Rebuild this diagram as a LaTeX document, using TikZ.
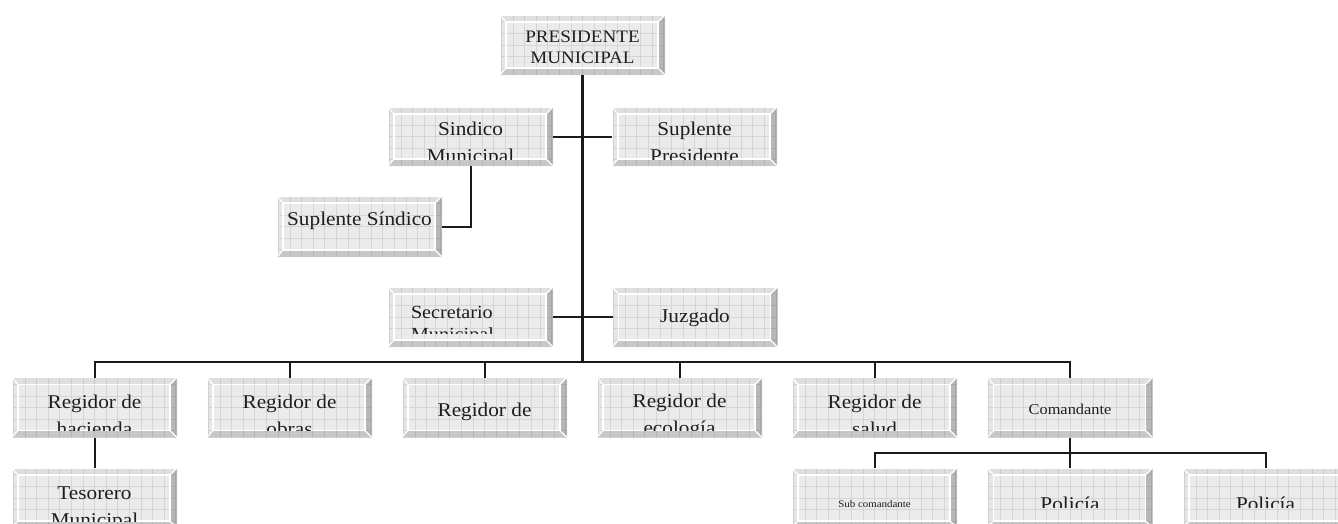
\documentclass[tikz,border=0pt]{standalone}
\usepackage{fontspec}
\setmainfont{Liberation Serif}[FakeStretch=1.09]
\definecolor{facecol}{HTML}{EBEBEB}
\definecolor{gridcol}{HTML}{D5D5D5}
\definecolor{linecol}{HTML}{1A1A1A}
\definecolor{textcol}{HTML}{1E1E1E}
\tikzset{
 bevelbox/.style={rectangle, minimum width=165pt, minimum height=#1, inner sep=0pt, outer sep=0pt, fill=facecol,
  path picture={
   \coordinate (pSW) at (path picture bounding box.south west);
   \coordinate (pNE) at (path picture bounding box.north east);
   \coordinate (pNW) at (path picture bounding box.north west);
   \coordinate (pSE) at (path picture bounding box.south east);
   \coordinate (qSW) at ([shift={(6pt,7pt)}]pSW);
   \coordinate (qNE) at ([shift={(-7pt,-7pt)}]pNE);
   \coordinate (qNW) at ([shift={(6pt,-7pt)}]pNW);
   \coordinate (qSE) at ([shift={(-7pt,7pt)}]pSE);
   \draw[gridcol, line width=0.7pt, step=11.6pt] (pSW) grid (pNE);
   \fill[black, opacity=0.05] (pNW) -- (pNE) -- (qNE) -- (qNW) -- cycle;
   \fill[black, opacity=0.22] (pNE) -- (pSE) -- (qSE) -- (qNE) -- cycle;
   \fill[black, opacity=0.15] (pSE) -- (pSW) -- (qSW) -- (qSE) -- cycle;
   \fill[black, opacity=0.02] (pSW) -- (pNW) -- (qNW) -- (qSW) -- cycle;
   \draw[white, line width=1.4pt] (qSW) rectangle (qNE);
   \draw[white, line width=1.1pt] (pNW) -- (qNW) (pNE) -- (qNE) (pSW) -- (qSW) (pSE) -- (qSE);
   \draw[white, line width=1.2pt] (pSW) -- (pNW) -- (pNE);
  }},
 bevelbox/.default=60pt,
 conn/.style={draw=linecol, line width=2pt},
 mainconn/.style={draw=linecol, line width=2.7pt},
 boxtext/.style={inner sep=0pt, outer sep=0pt, text=textcol, font=\fontsize{19.5}{27}\selectfont},
}
% #1 node options, #2 box name, #3 x, #4 first baseline y, #5 clip bottom y, #6 column type, #7 text
\newcommand\boxlabel[7][]{%
 \begin{scope}
  \clip ([shift={(6pt,7pt)}]#2.south west) rectangle ([shift={(-7pt,-7pt)}]#2.north east);
  \clip (0,0) rectangle (1338,#5);
  \node[boxtext, anchor=base, #1] (#2-t) at (#3,#4)
   {\setlength{\tabcolsep}{0pt}\begin{tabular}[t]{#6}#7\end{tabular}};
 \end{scope}}
\begin{document}
\begin{tikzpicture}[x=1pt,y=-1pt]
\useasboundingbox[fill=white] (0,0) rectangle (1338,523);
% boxes
\node[bevelbox] (pres) at (582.5,45) {};
\node[bevelbox=59pt] (sind) at (470.5,136.5) {};
\node[bevelbox=59pt] (supp) at (694.5,136.5) {};
\node[bevelbox=61pt] (ssind) at (359.5,226.5) {};
\node[bevelbox] (secr) at (470.5,317) {};
\node[bevelbox] (juz) at (695,317) {};
\node[bevelbox] (reg1) at (94.5,407.5) {};
\node[bevelbox] (reg2) at (289.5,407.5) {};
\node[bevelbox] (reg3) at (484.5,407.5) {};
\node[bevelbox] (reg4) at (679.5,407.5) {};
\node[bevelbox] (reg5) at (874.5,407.5) {};
\node[bevelbox] (com) at (1070,407.5) {};
\node[bevelbox] (teso) at (94.5,498) {};
\node[bevelbox] (subc) at (874.5,498) {};
\node[bevelbox] (pol1) at (1070,498) {};
\node[bevelbox] (pol2) at (1265.5,498) {};
% texts
\boxlabel[font=\fontsize{17.5}{21}\selectfont]{pres}{582.5}{42}{600}{c}{PRESIDENTE\\MUNICIPAL}
\boxlabel{sind}{470.5}{135}{600}{c}{Sindico\\Municipal}
\boxlabel{supp}{694.5}{135}{600}{c}{Suplente\\Presidente}
\boxlabel{ssind}{359.5}{225}{600}{c}{Suplente Síndico}
\boxlabel[font=\fontsize{18.5}{22}\selectfont, anchor=base west]{secr}{411}{318}{333}{l}{Secretario\\Municipal}
\boxlabel{juz}{695}{322}{600}{c}{Juzgado}
\boxlabel{reg1}{94.5}{408}{600}{c}{Regidor de\\hacienda}
\boxlabel{reg2}{289.5}{408}{600}{c}{Regidor de\\obras}
\boxlabel{reg3}{484.5}{416}{600}{c}{Regidor de}
\boxlabel{reg4}{679.5}{407}{600}{c}{Regidor de\\ecología}
\boxlabel{reg5}{874.5}{408}{600}{c}{Regidor de\\salud}
\boxlabel[font=\fontsize{15}{18}\selectfont]{com}{1070}{414}{600}{c}{Comandante}
\boxlabel{teso}{94.5}{499}{600}{c}{Tesorero\\Municipal}
\boxlabel[font=\fontsize{10}{12}\selectfont]{subc}{874.5}{507}{600}{c}{Sub comandante}
\boxlabel{pol1}{1070}{510}{507}{c}{Policía}
\boxlabel{pol2}{1265.5}{510}{507}{c}{Policía}
% connectors
\coordinate (bus) at (582.5,362);
\coordinate (sbus) at (1070,453);
\draw[mainconn] (pres.south) -- (bus);
\draw[conn] (sind.east) -- (supp.west);
\draw[conn] (secr.east) -- (juz.west);
\draw[conn] (sind.south) |- (ssind.east);
\foreach \r in {reg1,reg2,reg3,reg4,reg5,com} \draw[conn] (\r.north) |- (bus);
\draw[conn] (reg1.south) -- (teso.north);
\draw[conn] (com.south) -- (pol1.north);
\draw[conn] (subc.north) |- (sbus) -| (pol2.north);
\end{tikzpicture}
\end{document}
